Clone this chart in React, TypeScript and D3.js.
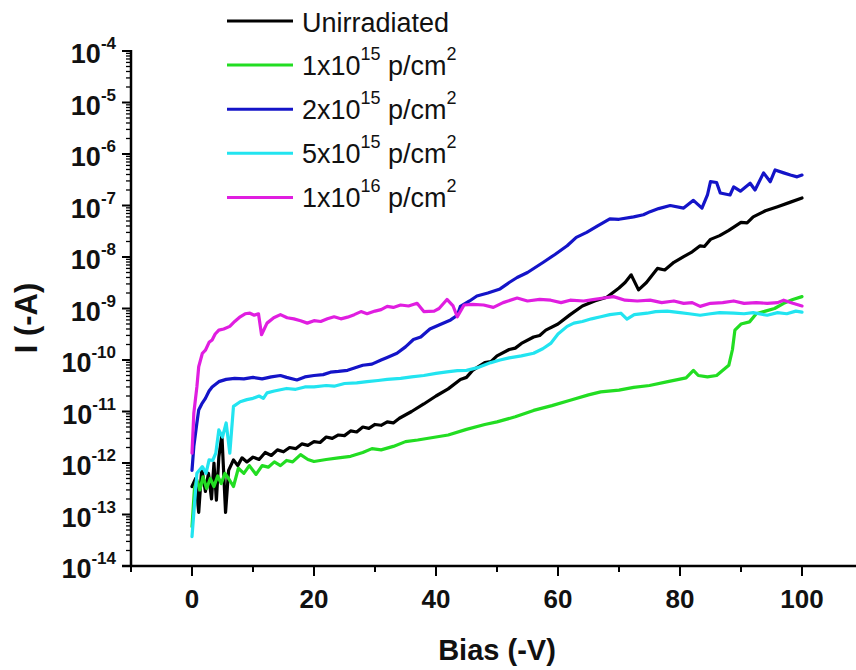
import React from "react";
import * as d3 from "d3";

const seriesNames = ["Unirradiated", "1x10|15", "2x10|15", "5x10|15", "1x10|16"];
const seriesColors = ["#000000", "#22dd22", "#1414c8", "#22e4f0", "#e01ee0"];

const unirrBias = [0, 0.6, 1.1, 1.6, 2.2, 2.7, 3.2, 3.6, 4.0, 4.4, 4.9, 5.5, 6.0, 6.8, 7.5, 8.2, 9, 10, 11, 12, 13, 14, 15, 16, 17, 18, 19, 20, 21, 22, 23, 24, 25, 26, 27, 28, 29, 30, 31, 32, 33, 34, 36, 38, 40, 42, 44, 45, 46, 48, 49, 50, 52, 53, 54, 56, 57, 58, 60, 62, 64, 66, 68, 70, 71, 72, 73.2, 74.5, 76.3, 77.5, 79, 80.6, 82, 83.3, 84, 85, 86.5, 88, 90, 91, 92, 94, 96, 98, 100];
const unirrCurrent = [3.5e-13, 5.0e-13, 1.1e-13, 7.9e-13, 2.8e-13, 6.3e-13, 2.0e-13, 1.0e-12, 1.9e-13, 1.3e-12, 3.5e-12, 1.1e-13, 7.2e-13, 1.15e-12, 8.9e-13, 1.26e-12, 1.05e-12, 1.3e-12, 1.17e-12, 1.6e-12, 1.4e-12, 1.8e-12, 1.65e-12, 2.0e-12, 1.9e-12, 2.35e-12, 2.2e-12, 2.6e-12, 2.5e-12, 3.2e-12, 3.0e-12, 3.5e-12, 3.4e-12, 4.2e-12, 4.0e-12, 5.0e-12, 4.7e-12, 5.6e-12, 5.4e-12, 6.3e-12, 6.0e-12, 7.4e-12, 1.0e-11, 1.4e-11, 2.0e-11, 2.75e-11, 4.2e-11, 4.6e-11, 6.3e-11, 8.9e-11, 9.3e-11, 1.2e-10, 1.6e-10, 1.7e-10, 2.1e-10, 2.8e-10, 3.0e-10, 3.8e-10, 5.0e-10, 7.6e-10, 1.12e-9, 1.4e-9, 1.65e-9, 2.5e-9, 3.2e-9, 4.5e-9, 2.3e-9, 3.2e-9, 6.0e-9, 5.6e-9, 7.9e-9, 1.02e-8, 1.26e-8, 1.65e-8, 1.6e-8, 2.2e-8, 2.6e-8, 3.3e-8, 4.7e-8, 4.6e-8, 6.0e-8, 7.9e-8, 9.5e-8, 1.15e-7, 1.4e-7];

const p1e15Bias = [0, 0.4, 0.8, 1.3, 1.8, 2.4, 3.0, 3.6, 4.2, 4.8, 5.4, 6.0, 6.8, 7.6, 8.5, 9.4, 10.5, 11.5, 12.5, 13.5, 14.5, 15.5, 16.5, 17.8, 19, 20, 22, 24, 26, 28, 29.5, 31, 33, 35, 37, 40, 42, 45, 48, 50, 53, 56, 59, 62, 65, 67, 70, 72.4, 75, 78, 81, 82.2, 83, 84.5, 86, 88, 88.6, 89, 90, 91.4, 92.5, 94, 95.5, 97, 98.5, 100];
const p1e15Current = [5.8e-14, 3.2e-13, 4.7e-13, 3.0e-13, 5.4e-13, 3.2e-13, 5.0e-13, 3.5e-13, 5.6e-13, 4.0e-13, 6.3e-13, 5.0e-13, 3.5e-13, 7.9e-13, 6.3e-13, 8.9e-13, 6.0e-13, 8.9e-13, 8.3e-13, 1.05e-12, 8.9e-13, 1.12e-12, 1.05e-12, 1.45e-12, 1.17e-12, 1.07e-12, 1.17e-12, 1.26e-12, 1.35e-12, 1.6e-12, 1.9e-12, 1.8e-12, 2.1e-12, 2.6e-12, 2.8e-12, 3.2e-12, 3.5e-12, 4.5e-12, 5.6e-12, 6.3e-12, 7.9e-12, 1.05e-11, 1.3e-11, 1.65e-11, 2.1e-11, 2.4e-11, 2.6e-11, 2.95e-11, 3.2e-11, 3.8e-11, 4.5e-11, 6.3e-11, 5.0e-11, 4.7e-11, 5.0e-11, 7.9e-11, 1.6e-10, 3.8e-10, 5.0e-10, 5.5e-10, 7.9e-10, 8.9e-10, 1.0e-9, 1.26e-9, 1.5e-9, 1.7e-9];

const p2e15Bias = [0, 0.3, 0.8, 1.1, 1.6, 2.2, 2.8, 3.3, 4.4, 5.6, 7, 8.5, 10, 11.5, 13, 14.5, 15.5, 17.2, 18.5, 20, 21.5, 22.7, 24, 25.5, 27, 28, 29.5, 31, 32, 33.6, 35, 36.3, 37.5, 39, 40.5, 42.4, 43.5, 44.0, 45.5, 46.7, 48.5, 50.5, 52, 53.3, 55, 57.6, 59.5, 61.5, 63, 64.7, 66.5, 68.5, 70, 72.4, 74, 75.1, 76.5, 78.4, 80.6, 82.2, 83.6, 84.5, 85, 86, 86.6, 88.2, 88.8, 89.9, 91.5, 92.3, 93.7, 94.8, 95.6, 97, 98.1, 99.2, 100];
const p2e15Current = [7.2e-13, 2.1e-12, 6.0e-12, 1.07e-11, 1.4e-11, 1.8e-11, 2.5e-11, 3.0e-11, 3.8e-11, 4.2e-11, 4.4e-11, 4.3e-11, 4.6e-11, 4.3e-11, 4.7e-11, 5.0e-11, 4.6e-11, 4.1e-11, 4.7e-11, 5.0e-11, 5.2e-11, 5.8e-11, 6.0e-11, 6.3e-11, 7.2e-11, 7.9e-11, 8.3e-11, 1.0e-10, 1.12e-10, 1.35e-10, 1.8e-10, 2.5e-10, 2.8e-10, 4.0e-10, 4.8e-10, 6.0e-10, 7.4e-10, 1.1e-9, 1.4e-9, 1.75e-9, 2.0e-9, 2.4e-9, 3.2e-9, 4.0e-9, 5.0e-9, 7.9e-9, 1.12e-8, 1.65e-8, 2.4e-8, 3.0e-8, 4.0e-8, 5.5e-8, 5.4e-8, 6.0e-8, 6.6e-8, 7.6e-8, 8.7e-8, 1.0e-7, 8.9e-8, 1.26e-7, 8.9e-8, 1.6e-7, 2.9e-7, 2.8e-7, 1.75e-7, 1.6e-7, 2.3e-7, 1.9e-7, 2.7e-7, 2.0e-7, 4.3e-7, 2.9e-7, 4.9e-7, 4.3e-7, 3.9e-7, 3.6e-7, 3.9e-7];

const p5e15Bias = [0, 0.3, 0.8, 1.7, 2.3, 2.8, 3.4, 3.9, 4.4, 5.0, 5.6, 6.2, 6.8, 7.9, 9, 10, 11, 11.7, 12.3, 13.5, 15.5, 17, 18.5, 20, 22, 23.3, 25, 27, 28.7, 30.5, 32, 34.2, 36, 38, 40, 41.8, 43.5, 45, 47, 49, 50.5, 52, 54, 56, 57.5, 58.8, 60, 61.5, 62.6, 64, 65.5, 67, 68.5, 70.3, 71.3, 72.5, 74.6, 76, 77.9, 80, 81.5, 83.3, 85, 86.5, 88.8, 90.5, 92, 94.3, 96, 97.5, 99, 100];
const p5e15Current = [3.7e-14, 1.07e-13, 6.3e-13, 8.5e-13, 6.3e-13, 1.15e-12, 1.12e-12, 1.55e-12, 4.4e-12, 3.2e-12, 6.0e-12, 1.55e-12, 1.26e-11, 1.55e-11, 1.7e-11, 1.8e-11, 2.0e-11, 1.8e-11, 2.3e-11, 2.5e-11, 2.8e-11, 2.7e-11, 3.0e-11, 3.0e-11, 3.2e-11, 3.1e-11, 3.5e-11, 3.6e-11, 3.8e-11, 4.0e-11, 4.2e-11, 4.4e-11, 4.7e-11, 5.0e-11, 5.5e-11, 5.9e-11, 6.2e-11, 6.3e-11, 7.2e-11, 8.9e-11, 1.0e-10, 1.1e-10, 1.2e-10, 1.35e-10, 1.65e-10, 2.1e-10, 3.2e-10, 4.5e-10, 5.2e-10, 5.6e-10, 6.3e-10, 6.9e-10, 7.6e-10, 8.1e-10, 6.2e-10, 7.6e-10, 8.1e-10, 8.7e-10, 8.9e-10, 8.3e-10, 7.9e-10, 7.4e-10, 7.9e-10, 8.3e-10, 8.1e-10, 7.9e-10, 8.3e-10, 7.4e-10, 8.3e-10, 7.9e-10, 8.9e-10, 8.5e-10];

const p1e16Bias = [0, 0.3, 0.8, 1.1, 1.7, 2.2, 2.8, 3.3, 3.8, 4.4, 5.2, 6.2, 7.0, 7.9, 8.7, 9.5, 10.2, 10.9, 11.4, 12.3, 13.4, 14.5, 15.6, 16.7, 17.8, 18.9, 20, 21.1, 22.2, 23.3, 24.4, 25.5, 26.6, 27.7, 28.7, 30, 31, 32, 33, 34.2, 35.5, 36.9, 38, 39.7, 40.5, 41.8, 42.8, 43.5, 44.6, 46, 47.8, 49.4, 51, 53.3, 55, 57, 58.8, 60.5, 62, 64.2, 66, 67.5, 69.1, 71, 73, 75.1, 77, 79, 80.6, 82, 83.3, 85, 87, 88.8, 90.5, 92.5, 94.3, 96, 97, 98.5, 100];
const p1e16Current = [1.55e-12, 9.3e-12, 3.0e-11, 7.4e-11, 1.35e-10, 1.55e-10, 2.2e-10, 2.45e-10, 3.2e-10, 3.8e-10, 4.0e-10, 4.5e-10, 5.6e-10, 6.9e-10, 7.9e-10, 8.1e-10, 7.4e-10, 7.9e-10, 3.1e-10, 5.2e-10, 6.6e-10, 7.6e-10, 6.6e-10, 6.3e-10, 5.8e-10, 5.2e-10, 5.8e-10, 5.6e-10, 6.3e-10, 6.9e-10, 6.3e-10, 6.8e-10, 7.6e-10, 8.7e-10, 7.9e-10, 8.9e-10, 9.5e-10, 1.1e-9, 1.05e-9, 1.17e-9, 1.12e-9, 1.26e-9, 8.7e-10, 8.9e-10, 1.0e-9, 1.5e-9, 1.12e-9, 6.9e-10, 1.17e-9, 1.2e-9, 1.17e-9, 1.05e-9, 1.3e-9, 1.6e-9, 1.4e-9, 1.5e-9, 1.45e-9, 1.3e-9, 1.45e-9, 1.4e-9, 1.5e-9, 1.6e-9, 1.7e-9, 1.45e-9, 1.4e-9, 1.45e-9, 1.3e-9, 1.4e-9, 1.26e-9, 1.3e-9, 1.1e-9, 1.26e-9, 1.3e-9, 1.4e-9, 1.26e-9, 1.3e-9, 1.26e-9, 1.3e-9, 1.45e-9, 1.26e-9, 1.12e-9];

const xTickValues = [0, 20, 40, 60, 80, 100];
const xMinorTickValues = [-10, 10, 30, 50, 70, 90];
const yTickExponents = [-4, -5, -6, -7, -8, -9, -10, -11, -12, -13, -14];

const FONT = "'Liberation Sans', Arial, Helvetica, sans-serif";

export default function App() {
  const W = 856;
  const H = 670;
  const x = d3.scaleLinear().domain([-10, 110]).range([131, 863]);
  const y = d3.scaleLog().domain([1e-14, 1e-4]).range([566, 51]);

  const seriesBias = [unirrBias, p1e15Bias, p2e15Bias, p5e15Bias, p1e16Bias];
  const seriesCurrent = [unirrCurrent, p1e15Current, p2e15Current, p5e15Current, p1e16Current];

  const line = d3
    .line<[number, number]>()
    .x((d) => x(d[0]))
    .y((d) => y(d[1]));

  const minorY: number[] = [];
  for (let e = -14; e < -4; e++) {
    for (let m = 2; m <= 9; m++) minorY.push(m * Math.pow(10, e));
  }

  const legendX0 = 227;
  const legendX1 = 293;
  const legendY0 = 21;
  const legendDy = 44.1;

  return (
    <svg
      width={W}
      height={H}
      style={{ position: "absolute", left: 0, top: 0, background: "#fff" }}
      fontFamily={FONT}
    >
      <rect x={0} y={0} width={W} height={H} fill="#fff" />
      {seriesBias.map((b, i) => {
        const pts = b.map((v, j) => [v, seriesCurrent[i][j]] as [number, number]);
        return (
          <path
            key={i}
            d={line(pts) || ""}
            fill="none"
            stroke={seriesColors[i]}
            strokeWidth={3.2}
            strokeLinejoin="round"
            strokeLinecap="round"
          />
        );
      })}

      <line x1={122} x2={856} y1={566} y2={566} stroke="#000" strokeWidth={2.5} />
      <line x1={131} x2={131} y1={50} y2={567} stroke="#000" strokeWidth={2.5} />
      {xTickValues.map((v) => (
        <g key={"xt" + v}>
          <line x1={x(v)} x2={x(v)} y1={566} y2={576} stroke="#000" strokeWidth={2} />
          <text x={x(v)} y={608} textAnchor="middle" fontSize={26} fontWeight="bold" fill="#111">
            {v}
          </text>
        </g>
      ))}
      {xMinorTickValues.map((v) => (
        <line key={"xm" + v} x1={x(v)} x2={x(v)} y1={566} y2={572} stroke="#000" strokeWidth={2} />
      ))}
      {minorY.map((v, i) => (
        <line key={"ym" + i} x1={126} x2={131} y1={y(v)} y2={y(v)} stroke="#000" strokeWidth={1.3} />
      ))}
      {yTickExponents.map((e) => {
        const ty = y(Math.pow(10, e));
        return (
          <g key={"yt" + e}>
            <line x1={122} x2={131} y1={ty} y2={ty} stroke="#000" strokeWidth={2} />
            <text x={116} y={ty + 12} textAnchor="end" fontWeight="bold" fill="#111">
              <tspan fontSize={27}>10</tspan>
              <tspan fontSize={17} dy={-14}>{String(e)}</tspan>
            </text>
          </g>
        );
      })}

      <text x={497} y={660} textAnchor="middle" fontSize={29} fontWeight="bold" fill="#111">
        Bias (-V)
      </text>
      <text
        transform="translate(37,318) rotate(-90)"
        textAnchor="middle"
        fontSize={31}
        fontWeight="bold"
        fill="#111"
      >
        I (-A)
      </text>

      {seriesNames.map((name, i) => {
        const ly = legendY0 + i * legendDy;
        const parts = name.split("|");
        return (
          <g key={"lg" + i}>
            <line x1={legendX0} x2={legendX1} y1={ly} y2={ly} stroke={seriesColors[i]} strokeWidth={3} />
            {parts.length === 1 ? (
              <text x={302} y={ly + 11} fontSize={27} fill="#111">
                {name}
              </text>
            ) : (
              <text x={302} y={ly + 10} fontSize={27} fill="#111">
                <tspan>{parts[0]}</tspan>
                <tspan fontSize={18} dy={-15}>{parts[1]}</tspan>
                <tspan dy={15}>{" p/cm"}</tspan>
                <tspan fontSize={18} dy={-15}>2</tspan>
              </text>
            )}
          </g>
        );
      })}
    </svg>
  );
}
